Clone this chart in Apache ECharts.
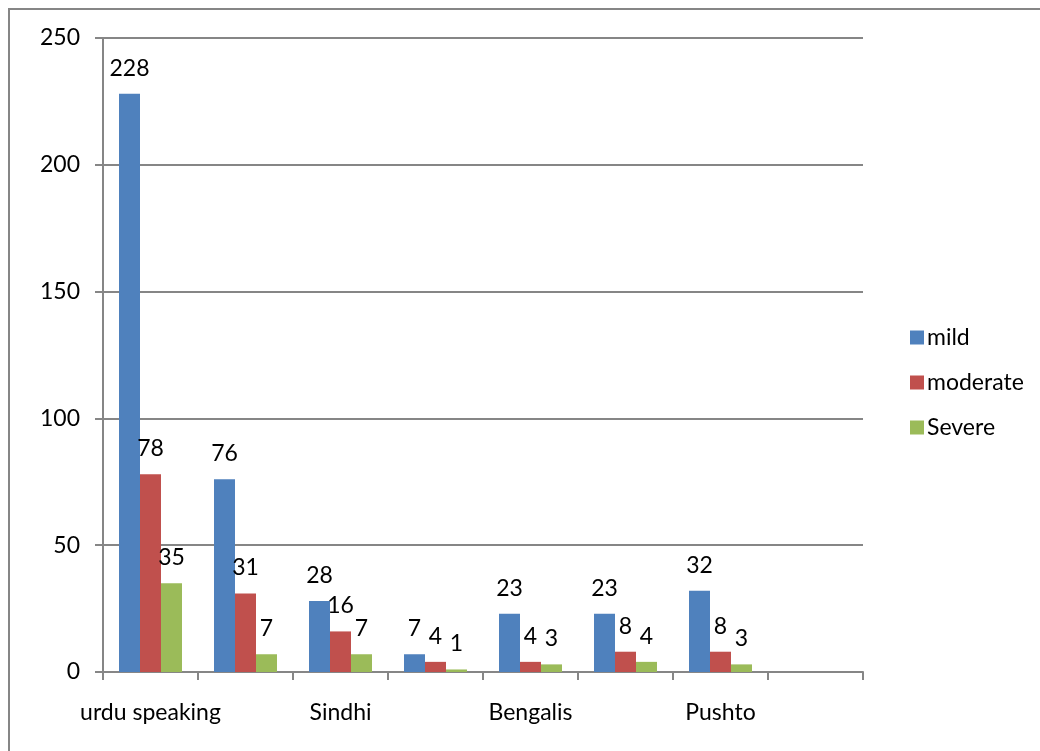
<!DOCTYPE html>
<html>
<head>
<meta charset="utf-8">
<script src="https://cdn.jsdelivr.net/npm/echarts@6/dist/echarts.min.js"></script>
<style>
html,body{margin:0;padding:0;background:#fff;}
#chart{width:1040px;height:751px;}
</style>
</head>
<body>
<div id="chart"></div>
<script>
var categories = ['urdu speaking', '', 'Sindhi', '', 'Bengalis', '', 'Pushto', ''];
var mild = [228, 76, 28, 7, 23, 23, 32, null];
var moderate = [78, 31, 16, 4, 4, 8, 8, null];
var severe = [35, 7, 7, 1, 3, 4, 3, null];
var seriesNames = ['mild', 'moderate', 'Severe'];
var yTicks = {min: 0, max: 250, interval: 50};

var FONT = 'Lato';
var FS = 23;
var axisGray = '#868686';
var chart = echarts.init(document.getElementById('chart'));

function mkSeries(name, data, color) {
  return {
    name: name,
    type: 'bar',
    data: data,
    barGap: '0%',
    barCategoryGap: '33.7%',
    itemStyle: {color: color},
    label: {
      show: true,
      position: 'top',
      distance: 14,
      color: '#000',
      fontFamily: FONT,
      fontSize: FS
    }
  };
}

chart.setOption({
  animation: false,
  backgroundColor: '#fff',
  textStyle: {fontFamily: FONT},
  graphic: [{
    type: 'rect',
    shape: {x: 9, y: 9, width: 1100, height: 800},
    style: {fill: 'none', stroke: axisGray, lineWidth: 2},
    silent: true
  }],
  grid: {left: 103, top: 38, width: 760, height: 634, containLabel: false},
  legend: {
    orient: 'vertical',
    left: 905,
    top: 321,
    itemWidth: 14,
    itemHeight: 14,
    itemGap: 22,
    icon: 'rect',
    textStyle: {fontFamily: FONT, fontSize: FS, color: '#000', padding: [0, 0, 0, -2]},
    data: seriesNames
  },
  xAxis: {
    type: 'category',
    data: categories,
    boundaryGap: true,
    axisLine: {lineStyle: {color: axisGray, width: 2}},
    axisTick: {show: true, alignWithLabel: false, length: 8, lineStyle: {color: axisGray, width: 2}, interval: 0},
    axisLabel: {interval: 0, color: '#000', fontFamily: FONT, fontSize: FS, margin: 29}
  },
  yAxis: {
    type: 'value',
    min: yTicks.min,
    max: yTicks.max,
    interval: yTicks.interval,
    axisLine: {show: true, lineStyle: {color: axisGray, width: 2}},
    axisTick: {show: true, length: 8, lineStyle: {color: axisGray, width: 2}},
    axisLabel: {color: '#000', fontFamily: FONT, fontSize: FS, margin: 23},
    splitLine: {show: true, lineStyle: {color: axisGray, width: 2}}
  },
  series: [
    mkSeries(seriesNames[0], mild, '#4F81BD'),
    mkSeries(seriesNames[1], moderate, '#C0504D'),
    mkSeries(seriesNames[2], severe, '#9BBB59')
  ]
});
</script>
</body>
</html>
